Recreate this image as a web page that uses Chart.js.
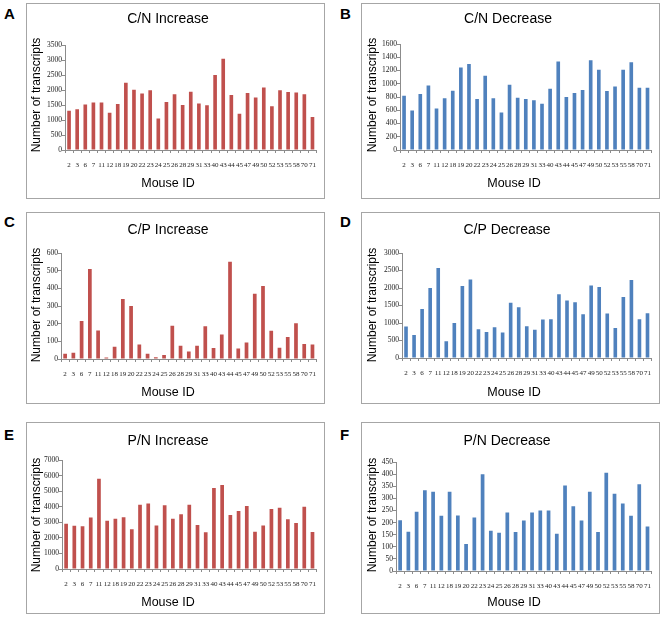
<!DOCTYPE html>
<html>
<head>
<meta charset="utf-8">
<script src="https://cdn.jsdelivr.net/npm/chart.js@4"></script>
<style>
  body { margin: 0; background: #fff; }
  #fig { position: relative; width: 669px; height: 626px; }
  .panel { position: absolute; border: 1px solid #a6a6a6; box-sizing: border-box; background: #fff; }
  .panel canvas { position: absolute; left: 0; top: 0; }
  .letter { position: absolute; font: bold 15px "Liberation Sans", Arial, sans-serif; color: #000; }
</style>
</head>
<body>
<div id="fig"></div>
<script>
// x categories (mouse IDs)
const mouseIds = ['2', '3', '6', '7', '11', '12', '18', '19', '20', '22', '23', '24', '25', '26', '28', '29',
    '31', '33', '40', '43', '44', '45', '47', '49', '50', '52', '53', '55', '58', '70', '71'];

// series values
const cnIncrease = [1310, 1360, 1520, 1580, 1580, 1240, 1530, 2240, 2010, 1880, 1990, 1050, 1600, 1860, 1500, 1940,
    1550, 1490, 2500, 3040, 1830, 1210, 1900, 1750, 2080, 1460, 1990, 1930, 1920, 1860, 1100];
const cnDecrease = [820, 595, 845, 975, 625, 780, 895, 1245, 1300, 770, 1120, 780, 565, 985, 790, 770,
    750, 700, 925, 1335, 800, 860, 905, 1355, 1210, 890, 960, 1210, 1325, 940, 940];
const cpIncrease = [30, 35, 215, 510, 162, 8, 70, 340, 300, 82, 30, 10, 22, 188, 75, 42,
    75, 185, 62, 138, 550, 60, 93, 370, 413, 160, 63, 125, 202, 85, 82];
const cpDecrease = [900, 660, 1400, 2000, 2570, 480, 1000, 2060, 2240, 820, 740, 880, 730, 1580, 1450, 910,
    810, 1100, 1110, 1820, 1640, 1590, 1250, 2070, 2030, 1270, 860, 1740, 2230, 1110, 1280];
const pnIncrease = [2900, 2780, 2750, 3300, 5800, 3100, 3220, 3330, 2550, 4130, 4200, 2790, 4100, 3230, 3510, 4120,
    2820, 2360, 5200, 5390, 3470, 3720, 4050, 2400, 2800, 3850, 3930, 3200, 2960, 4000, 2370];
const pnDecrease = [210, 162, 245, 333, 327, 228, 327, 229, 111, 221, 399, 166, 158, 242, 161, 208,
    241, 250, 250, 154, 353, 267, 209, 327, 161, 406, 319, 279, 228, 358, 184];

// y axis ranges per panel (A..F)
const yMax = [3500, 1600, 600, 3000, 7000, 450];
const yStep = [500, 200, 100, 500, 1000, 50];
const panelTitles = ['C/N Increase', 'C/N Decrease', 'C/P Increase', 'C/P Decrease', 'P/N Increase', 'P/N Decrease'];
const panelLetters = ['A', 'B', 'C', 'D', 'E', 'F'];

const RED = '#c0504d';
const BLUE = '#4f81bd';
const AXIS = '#8c8c8c';

// layout: box = [left, top, w, h]; plot = [left, top, right, bottom] inside box
const panels = [
    { data: cnIncrease, color: RED,  box: [26, 3, 299, 196],    plot: [38, 41, 295, 146], letter: [4, 5],     t: [141, 15], xt: [141, 180], yt: [10, 91] },
    { data: cnDecrease, color: BLUE, box: [361, 3, 299, 196],   plot: [38, 40, 297, 146], letter: [340, 5],   t: [146, 15], xt: [152, 180], yt: [11, 91] },
    { data: cpIncrease, color: RED,  box: [26, 212, 299, 192],  plot: [34, 40, 295, 146], letter: [4, 213],   t: [141, 17], xt: [141, 180], yt: [10, 92] },
    { data: cpDecrease, color: BLUE, box: [361, 212, 299, 192], plot: [40, 40, 297, 145], letter: [340, 213], t: [145, 17], xt: [152, 180], yt: [11, 92] },
    { data: pnIncrease, color: RED,  box: [26, 422, 299, 192],  plot: [35, 37, 296, 146], letter: [4, 426],   t: [141, 18], xt: [141, 180], yt: [10, 92] },
    { data: pnDecrease, color: BLUE, box: [361, 422, 299, 192], plot: [34, 39, 297, 148], letter: [340, 426], t: [145, 18], xt: [152, 180], yt: [11, 92] }
];

// draws panel title and axis titles at fixed spots
const panelText = {
    id: 'panelText',
    afterDraw(chart, args, opts) {
        const ctx = chart.ctx;
        ctx.save();
        ctx.fillStyle = '#000';
        ctx.textAlign = 'center';
        ctx.textBaseline = 'middle';
        ctx.font = '14px "Liberation Sans", Arial, sans-serif';
        ctx.fillText(opts.title, opts.t[0], opts.t[1]);
        ctx.font = '12.5px "Liberation Sans", Arial, sans-serif';
        ctx.fillText('Mouse ID', opts.xt[0], opts.xt[1]);
        ctx.translate(opts.yt[0], opts.yt[1]);
        ctx.rotate(-Math.PI / 2);
        ctx.font = '12px "Liberation Sans", Arial, sans-serif';
        ctx.fillText('Number of transcripts', 0, 0);
        ctx.restore();
    }
};

const fig = document.getElementById('fig');
const tickFont = size => ({ family: '"Liberation Serif", "Times New Roman", serif', size: size });

panels.forEach((p, i) => {
    const [bl, bt, bw, bh] = p.box;
    const div = document.createElement('div');
    div.className = 'panel';
    div.style.left = bl + 'px';
    div.style.top = bt + 'px';
    div.style.width = bw + 'px';
    div.style.height = bh + 'px';
    const w = bw - 2, h = bh - 2;
    const canvas = document.createElement('canvas');
    canvas.width = w;
    canvas.height = h;
    canvas.style.width = w + 'px';
    canvas.style.height = h + 'px';
    div.appendChild(canvas);
    fig.appendChild(div);

    const lt = document.createElement('div');
    lt.className = 'letter';
    lt.style.left = p.letter[0] + 'px';
    lt.style.top = p.letter[1] + 'px';
    lt.textContent = panelLetters[i];
    fig.appendChild(lt);

    const [pl, pt, pr, pb] = p.plot;

    new Chart(canvas.getContext('2d'), {
        type: 'bar',
        data: {
            labels: mouseIds,
            datasets: [{
                data: p.data,
                backgroundColor: p.color,
                borderWidth: 0,
                barPercentage: 0.45,
                categoryPercentage: 1
            }]
        },
        options: {
            responsive: false,
            animation: false,
            layout: { padding: { left: 0, top: pt, right: w - pr, bottom: 0 } },
            scales: {
                x: {
                    grid: { display: true, drawOnChartArea: false, tickLength: 3, color: AXIS, offset: true },
                    border: { display: true, color: AXIS },
                    ticks: { autoSkip: false, maxRotation: 0, minRotation: 0, padding: 8, color: '#222', font: tickFont(7) },
                    afterFit: s => { s.height = h - pb; }
                },
                y: {
                    min: 0,
                    max: yMax[i],
                    grid: { display: true, drawOnChartArea: false, tickLength: 3, color: AXIS },
                    border: { display: true, color: AXIS },
                    ticks: {
                        stepSize: yStep[i], autoSkip: false, padding: 0, color: '#222', font: tickFont(7.5),
                        callback: v => String(v)
                    },
                    afterFit: s => { s.width = pl; }
                }
            },
            plugins: {
                legend: { display: false },
                tooltip: { enabled: false },
                panelText: { title: panelTitles[i], t: p.t, xt: p.xt, yt: p.yt }
            }
        },
        plugins: [panelText]
    });
});
</script>
</body>
</html>
